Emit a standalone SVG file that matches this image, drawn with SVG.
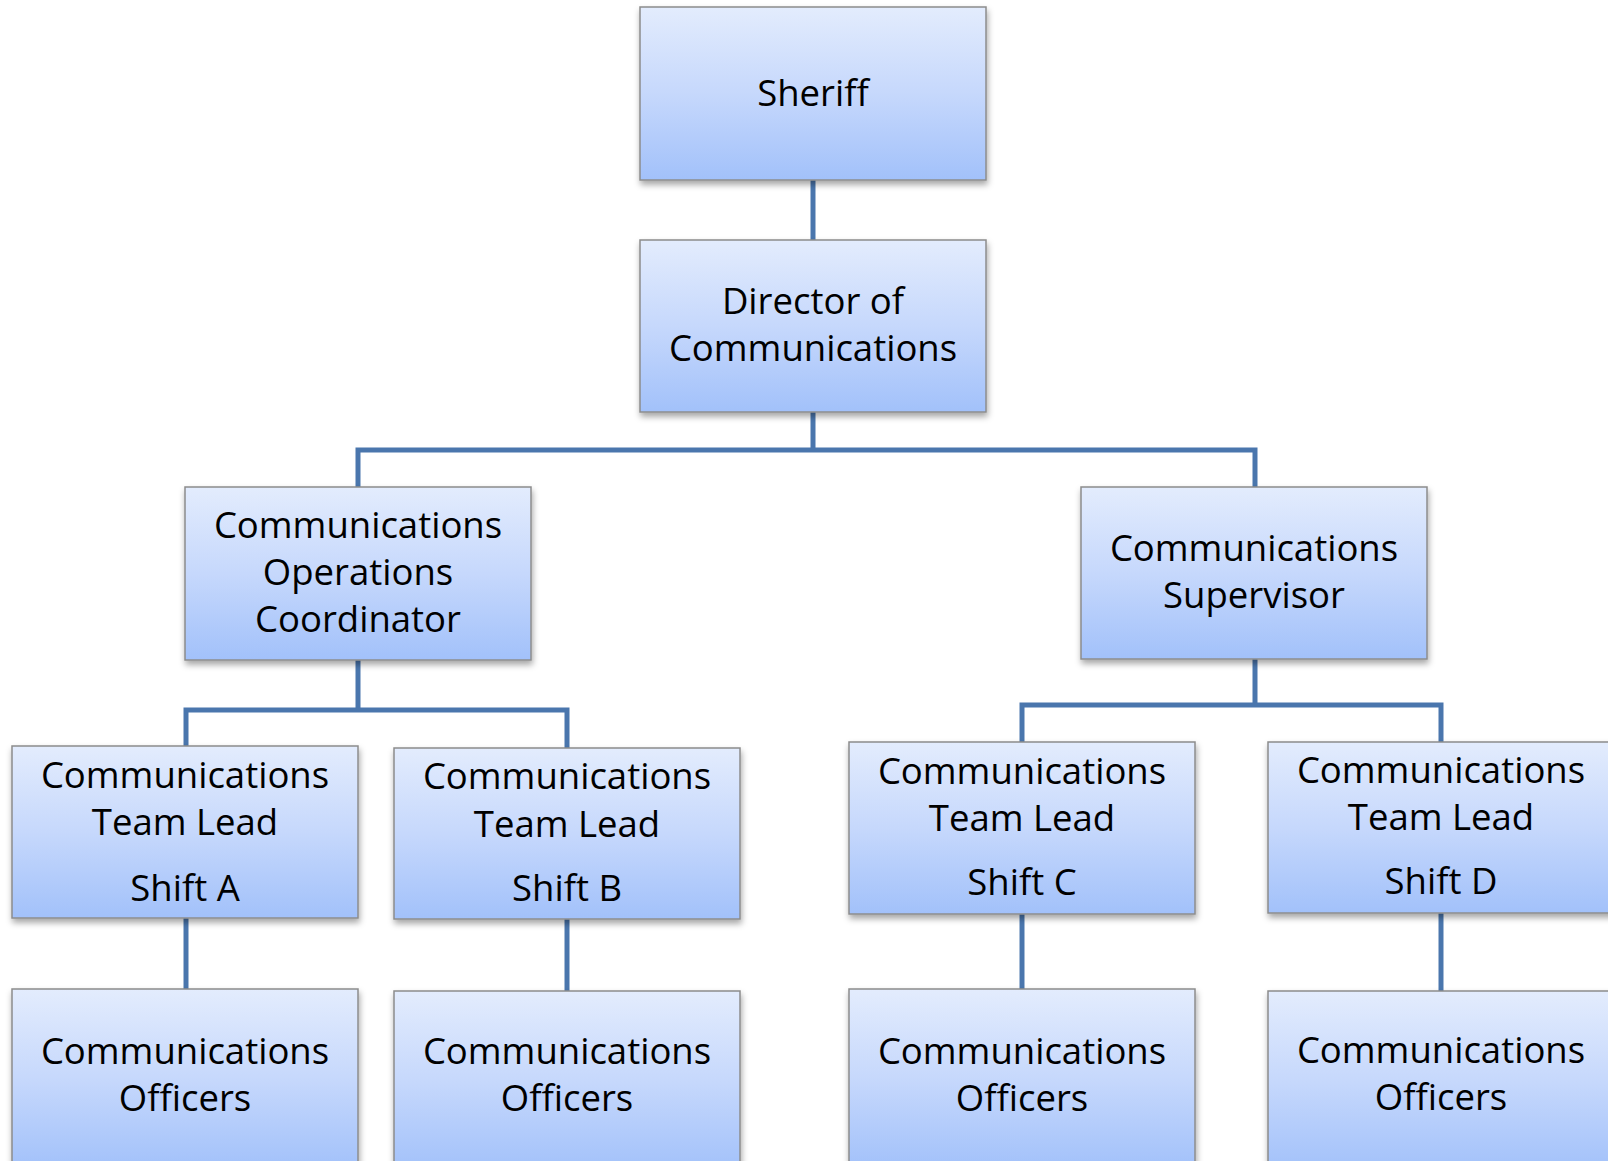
<svg xmlns="http://www.w3.org/2000/svg" width="1608" height="1161" viewBox="0 0 1608 1161">
<defs>
<linearGradient id="g" x1="0" y1="0" x2="0" y2="1">
<stop offset="0" stop-color="#E3ECFD"/>
<stop offset="0.5" stop-color="#C6D8FC"/>
<stop offset="1" stop-color="#A2C1FA"/>
</linearGradient>
<filter id="sh" x="-5%" y="-5%" width="115%" height="125%">
<feDropShadow dx="1" dy="4" stdDeviation="3" flood-color="#000" flood-opacity="0.35"/>
</filter>
</defs>
<style>
.box{fill:url(#g);stroke:#8C8C8C;stroke-width:1.5;filter:url(#sh)}
.t{font-family:"Open Sans","Liberation Sans",sans-serif;font-size:36.5px;fill:#000;text-anchor:middle}
.c{fill:none;stroke:#4A76AD;stroke-width:5;stroke-linejoin:miter}
</style>
<rect width="1608" height="1161" fill="#fff"/>
<g id="connectors">
<path class="c" d="M813 180V240"/>
<path class="c" d="M813 412V450M358 487V450H1255V487"/>
<path class="c" d="M358 660V710M186 746V710H567V748"/>
<path class="c" d="M1255 659V705M1022 742V705H1441V742"/>
<path class="c" d="M186 918V989"/>
<path class="c" d="M567 919V991"/>
<path class="c" d="M1022 914V989"/>
<path class="c" d="M1441 913V991"/>
</g>
<g id="sheriff">
<rect class="box" x="640" y="7" width="346" height="173"/>
<text class="t" x="813" y="106">Sheriff</text>
</g>
<g id="director">
<rect class="box" x="640" y="240" width="346" height="172"/>
<text class="t" x="813" y="314">Director of</text>
<text class="t" x="813" y="361">Communications</text>
</g>
<g id="coordinator">
<rect class="box" x="185" y="487" width="346" height="173"/>
<text class="t" x="358" y="538">Communications</text>
<text class="t" x="358" y="585">Operations</text>
<text class="t" x="358" y="632">Coordinator</text>
</g>
<g id="supervisor">
<rect class="box" x="1081" y="487" width="346" height="172"/>
<text class="t" x="1254" y="561">Communications</text>
<text class="t" x="1254" y="608">Supervisor</text>
</g>
<g id="teamA">
<rect class="box" x="12" y="746" width="346" height="172"/>
<text class="t" x="185" y="788">Communications</text>
<text class="t" x="185" y="835">Team Lead</text>
<text class="t" x="185" y="901">Shift A</text>
</g>
<g id="teamB">
<rect class="box" x="394" y="748" width="346" height="171"/>
<text class="t" x="567" y="789">Communications</text>
<text class="t" x="567" y="837">Team Lead</text>
<text class="t" x="567" y="901">Shift B</text>
</g>
<g id="teamC">
<rect class="box" x="849" y="742" width="346" height="172"/>
<text class="t" x="1022" y="784">Communications</text>
<text class="t" x="1022" y="831">Team Lead</text>
<text class="t" x="1022" y="895">Shift C</text>
</g>
<g id="teamD">
<rect class="box" x="1268" y="742" width="346" height="171"/>
<text class="t" x="1441" y="783">Communications</text>
<text class="t" x="1441" y="830">Team Lead</text>
<text class="t" x="1441" y="894">Shift D</text>
</g>
<g id="officersA">
<rect class="box" x="12" y="989" width="346" height="180"/>
<text class="t" x="185" y="1064">Communications</text>
<text class="t" x="185" y="1111">Officers</text>
</g>
<g id="officersB">
<rect class="box" x="394" y="991" width="346" height="180"/>
<text class="t" x="567" y="1064">Communications</text>
<text class="t" x="567" y="1111">Officers</text>
</g>
<g id="officersC">
<rect class="box" x="849" y="989" width="346" height="180"/>
<text class="t" x="1022" y="1064">Communications</text>
<text class="t" x="1022" y="1111">Officers</text>
</g>
<g id="officersD">
<rect class="box" x="1268" y="991" width="346" height="180"/>
<text class="t" x="1441" y="1063">Communications</text>
<text class="t" x="1441" y="1110">Officers</text>
</g>
</svg>
